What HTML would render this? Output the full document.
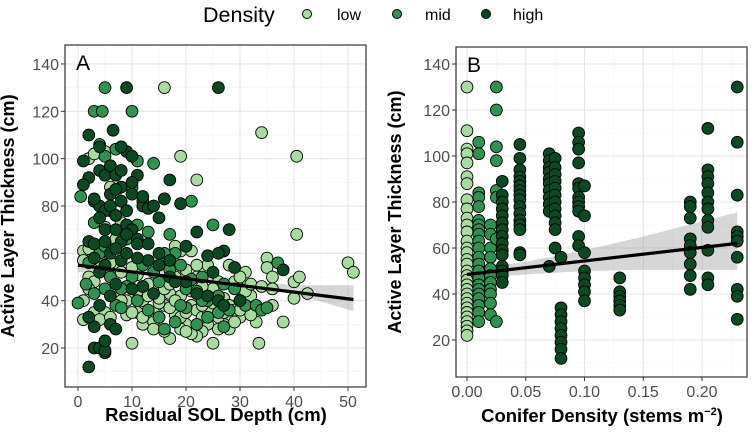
<!DOCTYPE html>
<html><head><meta charset="utf-8"><style>
body{margin:0;background:#fff;}
svg{display:block;font-family:"Liberation Sans",Arial,sans-serif;}
</style></head><body>
<div style="position:relative;width:756px;height:439px">
<svg id="chart" width="756" height="439" viewBox="0 0 756 439" style="position:absolute;left:0;top:0">
<g>
<text x="203" y="22" font-size="21.5" fill="#000">Density</text>
<g><circle cx="307" cy="14" r="4.5" fill="#a8dba0" stroke="#000" stroke-width="1"/><text x="337" y="20" font-size="16">low</text></g>
<g><circle cx="397" cy="14" r="4.5" fill="#2e9250" stroke="#000" stroke-width="1"/><text x="425" y="20" font-size="16">mid</text></g>
<g><circle cx="486" cy="14" r="4.5" fill="#0a4a23" stroke="#000" stroke-width="1"/><text x="513" y="20" font-size="16">high</text></g>
</g>
<g id="pA"></g>
<g id="pB"></g>
<text x="14" y="216" transform="rotate(-90 14 216)" font-size="18" font-weight="bold" text-anchor="middle">Active Layer Thickness (cm)</text>
<text x="216" y="421" font-size="18.5" font-weight="bold" text-anchor="middle">Residual SOL Depth (cm)</text>
<text x="401" y="212" transform="rotate(-90 401 212)" font-size="18" font-weight="bold" text-anchor="middle">Active Layer Thickness  (cm)</text>
<text x="602" y="422" font-size="18.5" font-weight="bold" text-anchor="middle">Conifer Density (stems m<tspan dy="-7" font-size="11">−2</tspan><tspan dy="7">)</tspan></text>
</svg>
</div>
<script>
const colors=["#a8dba0","#2e9250","#0a4a23"];
const aLow="16,130 34,111 19,101 40.5,101 22,91 40.5,68 50,56 51,52 2,100 3,102 5,103 7,86 1,61 2,62 1,57 2,50 1,40 1,32 3,35 5,35 7,55 9,34 10,22 25,22 33.5,22 38,31 42.5,43 40,41 40,48 41,50 36,38 35,58 35,54 36,50 31,52 19,61 21,61 18,50 20,53 22,50 24,55 26,48 28,55 29,48 30,45 32,42 33,37 31,35 30,33 28,32 27,30 26,28 24,30 23,27 22,25 21,26 20,30 19,28 18,34 17,24 16,27 15,33 14,35 13,34 12,30 11,35 12,40 13,42 14,31 16,38 17,37 19,33 20,35 21,38 22,36 23,33 25,36 26,38 27,41 28,38 29,36 31,44 32,47 34,46 36,45 30,50 25,45 23,46 21,44 19,42 17,43 15,39 13,47 11,44 10,35 9,40 8,52 6,56 4,57 3,48 2,45 4,32 6,33 8,40 11,51 15,41 18,40 26,33 28,28 20,27 14,28 24,36 29,31 33,31 12,33 16,45 22,55 10,54 7,66 5,71 8,73 6,88 18,63 17,47 23,38 25,39 27,35 30,36 32,34";
const aMid="0.5,84 0,39 5,130 3,120 4.5,120 10,120 1.5,47 3,43 5,45 7,38 8,37 4,106 7,104 5,101 14,98 11,99 10,88 12,82 16,83 17,68 25,72 21,82 18,60 17,53 15,48 20,45 22,44 24,40 26,35 27,29 28,36 30,40 31,38 33,38 34,36 37,56 16,60 14,52 12,55 10,50 9,46 11,40 13,36 15,33 16,28 18,31 20,37 22,30 24,33 26,42 6,50 8,45 4,60 2,56 5,63 9,66 11,72 3,73 6,78 13,69 19,55 21,49 23,50 27,47 29,45 35,37 23,40 19,38";
const aHigh="2,12 3,20 4,20 5,18 5,19 5,23 3,29 2,33 4,38 6,30 7,28 6,42 7,47 2,65 3,64 2,92 1,99 2,110 4,105 6.5,112 1,89 3,82 4,80 5,78 3,83 4,75 5,70 6,80 7,76 8,82 9,78 10,85 11,93 10,90 9,103 10,101 8,105 4,95 5,93 6,97 7,93 8,88 9,72 10,70 11,66 12,80 13,79 14,80 15,75 17,91 16,83 19,81 20,63 22,69 26,130 9,130 28,70 27,61 26,60 24,59 29,54 38,53 13,57 15,55 17,50 20,48 25,52 30,40 8,57 6,60 12,46 10,45 14,43 11,64 13,64 8,65 9,60 5,55 7,70 3,58 4,52 6,85 7,87 8,95 12,84 9,68 11,58 15,60 17,57 18,48 22,43 24,42 26,40 27,38 5,65 7,62";
const bCols=[0,0.01,0.02,0.025,0.03,0.045,0.07,0.075,0.08,0.095,0.1,0.13,0.19,0.205,0.23];
const bDens=[0,1,1,1,2,2,2,2,2,2,2,2,2,2,2];
const bVals=[
[130,111,103,101,97,91,88,81,77,73,70,67,63,60,58,55,53,50,48,46,44,42,40,38,36,34,32,30,28,26,24,22],
[106,101,84,82,78,72,70,68,66,63,60,56,53,50,47,44,42,40,38,35,32,28],
[70,66,60,56,51,48,45,42,40,36,31],
[130,120,104,98,85,82,64,28],
[89,83,80,77,74,71,68,65,62,59,57,52,50,48,45],
[105,99,94,91,89,87,85,83,81,78,75,72,70,68,58,57],
[101,98,95,93,90,88,85,82,79,76,52],
[99,95,92,89,86,83,80,77,74,71,68,60],
[56,34,31,28,25,22,19,16,12],
[110,106,103,97,88,86,82,80,78,76,65,61],
[87,74,58,50,47,44,41,37],
[47,41,39,37,35,33],
[80,78,73,64,61,58,53,48,42],
[112,94,91,88,84,80,77,72,69,59,47,44],
[130,106,83,67,65,63,56,42,39,29]];
const aFitX=[0,51], aFitY=[55,40.5], aBandX=[0,10,20,30,40,51], aBandLo=[52,51.2,49.5,46.5,43,35.5], aBandHi=[58,55.5,52,49,46.5,46.5];
const bFitX=[0,0.23], bFitY=[48.5,62], bBandX=[0,0.05,0.1,0.15,0.23], bBandLo=[46.5,48.5,50,50.5,50.5], bBandHi=[50.5,54,59,65,75.5];
const yTicks=[20,40,60,80,100,120,140];
const aXTicks=[0,10,20,30,40,50];
const bXTicks=[0,0.05,0.10,0.15,0.20];
const bXLabels=["0.00","0.05","0.10","0.15","0.20"];
const NS="http://www.w3.org/2000/svg";
function mk(p,t,a){const e=document.createElementNS(NS,t);for(const k in a)e.setAttribute(k,a[k]);p.appendChild(e);return e;}
function parse(s){return s.split(" ").map(q=>q.split(",").map(Number));}
function panel(g,cfg){
 const {L,R,T,B,x,y}=cfg;
 mk(g,"rect",{x:L,y:T,width:R-L,height:B-T,fill:"#fff"});
 cfg.xMinor.forEach(v=>{mk(g,"line",{x1:x(v),x2:x(v),y1:T,y2:B,stroke:"#f2f2f2","stroke-width":0.6});});
 [10,30,50,70,90,110,130].forEach(v=>mk(g,"line",{x1:L,x2:R,y1:y(v),y2:y(v),stroke:"#f2f2f2","stroke-width":0.6}));
 cfg.xTicks.forEach((v,i)=>{mk(g,"line",{x1:x(v),x2:x(v),y1:T,y2:B,stroke:"#e5e5e5","stroke-width":1.1});
  mk(g,"line",{x1:x(v),x2:x(v),y1:B,y2:B+4,stroke:"#333"});
  const t=mk(g,"text",{x:x(v),y:B+20,"font-size":16,fill:"#4d4d4d","text-anchor":"middle"});t.textContent=cfg.xLabels[i];
  
  });
 yTicks.forEach(v=>{mk(g,"line",{x1:L,x2:R,y1:y(v),y2:y(v),stroke:"#e5e5e5","stroke-width":1.1});
  mk(g,"line",{x1:L-4,x2:L,y1:y(v),y2:y(v),stroke:"#333"});
  const t=mk(g,"text",{x:L-6,y:y(v)+6,"font-size":16,fill:"#4d4d4d","text-anchor":"end"});t.textContent=v;
  
  });
 let d="M"+cfg.bandX.map((v,i)=>x(v)+","+y(cfg.bandHi[i])).join(" L");
 d+=" L"+cfg.bandX.map((v,i)=>x(v)+","+y(cfg.bandLo[i])).reverse().join(" L")+"Z";
 const band=mk(g,"path",{d:d,fill:"#999","fill-opacity":0.4});
 
 
 cfg.pts.forEach(p=>{const c=mk(g,"circle",{cx:x(p[0]),cy:y(p[1]),r:5.9,fill:colors[p[2]],stroke:"#000","stroke-width":0.9});
  
  });
 const fl=mk(g,"line",{x1:x(cfg.fitX[0]),y1:y(cfg.fitY[0]),x2:x(cfg.fitX[1]),y2:y(cfg.fitY[1]),stroke:"#000","stroke-width":3.2});
 
 
 mk(g,"rect",{x:L,y:T,width:R-L,height:B-T,fill:"none",stroke:"#333","stroke-width":1.2});
 const lab=mk(g,"text",{x:L+11,y:T+25,"font-size":21});lab.textContent=cfg.label;
 
 
}
const ptsA=[];
parse(aLow).forEach(p=>ptsA.push([p[0],p[1],0]));
parse(aMid).forEach(p=>ptsA.push([p[0],p[1],1]));
parse(aHigh).forEach(p=>ptsA.push([p[0],p[1],2]));
panel(document.getElementById("pA"),{L:65,R:366,T:45,B:387,x:v=>78+v*5.4,y:v=>348-(v-20)*2.367,xTicks:aXTicks,xLabels:aXTicks.map(String),xMinor:[5,15,25,35,45],
 pts:ptsA,fitX:aFitX,fitY:aFitY,bandX:aBandX,bandLo:aBandLo,bandHi:aBandHi,label:"A"});
const ptsB=[];
bCols.forEach((c,i)=>bVals[i].forEach(v=>ptsB.push([c,v,bDens[i]])));
panel(document.getElementById("pB"),{L:456,R:747,T:47,B:377,x:v=>467+v*1175,y:v=>340-(v-20)*2.3,xTicks:bXTicks,xLabels:bXLabels,xMinor:[0.025,0.075,0.125,0.175,0.225],
 pts:ptsB,fitX:bFitX,fitY:bFitY,bandX:bBandX,bandLo:bBandLo,bandHi:bBandHi,label:"B"});
</script>
</body></html>
